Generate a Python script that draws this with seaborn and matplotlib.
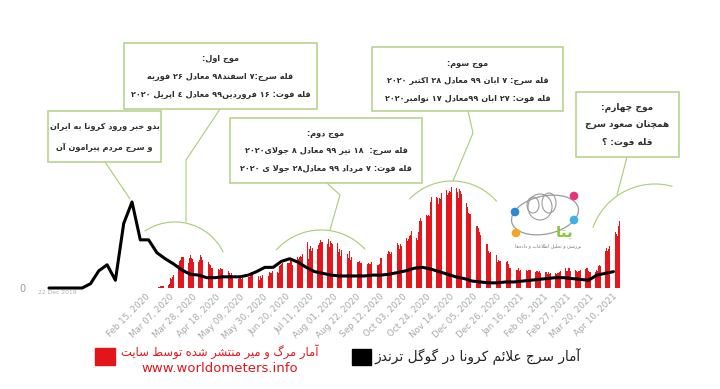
import re
import numpy as np
import pandas as pd
import seaborn as sns
import matplotlib.pyplot as plt
from matplotlib.patches import Rectangle, Ellipse, Circle

sns.set_style('white')
plt.rcParams['font.family'] = ['DejaVu Sans']

# daily deaths in Iran (worldometers), 19 Feb 2020 .. 16 Apr 2021
feb20 = [2, 0, 2, 1, 3, 4, 3, 4, 7, 8, 9]
mar20 = [11, 12, 11, 15, 15, 16, 21, 49, 43, 54, 63, 75, 85, 97, 113, 129, 135, 147, 149, 149, 123,
         129, 127, 122, 143, 157, 144, 139, 123, 117, 141]
apr20 = [138, 124, 134, 158, 151, 136, 133, 121, 117, 122, 125, 117, 111, 98, 94, 92, 89, 73, 87, 91,
         88, 94, 90, 93, 76, 60, 96, 71, 80, 71]
may20 = [63, 74, 47, 74, 68, 78, 68, 45, 55, 48, 45, 48, 50, 71, 48, 35, 51, 51, 62, 66, 69, 56, 58,
         51, 34, 57, 39, 58, 50, 63, 57]
jun20 = [81, 64, 70, 59, 75, 72, 70, 81, 74, 78, 71, 75, 71, 107, 113, 115, 120, 87, 120, 116, 119,
         121, 119, 133, 134, 113, 144, 125, 162, 147]
jul20 = [141, 148, 154, 148, 163, 160, 200, 153, 221, 142, 188, 203, 179, 194, 179, 195, 183, 188,
         209, 217, 229, 221, 221, 195, 216, 215, 212, 235, 196, 226, 216]
aug20 = [212, 208, 202, 212, 215, 174, 189, 156, 181, 189, 189, 171, 173, 164, 146, 178, 134, 149,
         139, 125, 129, 125, 126, 124, 128, 122, 119, 115, 102, 113, 110]
sep20 = [117, 121, 116, 114, 126, 125, 118, 116, 123, 110, 110, 114, 144, 144, 119, 177, 176, 172,
         166, 178, 175, 165, 175, 181, 184, 195, 184, 215, 207, 189]
oct20 = [213, 204, 210, 211, 235, 239, 227, 234, 251, 253, 272, 251, 254, 279, 239, 232, 269, 322,
         337, 322, 316, 322, 335, 351, 346, 353, 346, 415, 439, 434, 386]
nov20 = [434, 440, 432, 406, 433, 430, 459, 444, 453, 403, 470, 447, 458, 469, 461, 486, 482, 476,
         474, 479, 462, 431, 475, 469, 451, 458, 431, 413, 407, 389]
dec20 = [362, 358, 358, 321, 330, 332, 327, 300, 300, 287, 268, 256, 284, 221, 231, 221, 213, 212,
         177, 169, 175, 182, 173, 164, 165, 157, 123, 134, 131, 132, 111]
jan21 = [115, 106, 105, 124, 129, 114, 94, 96, 90, 86, 88, 91, 86, 85, 94, 84, 85, 80, 86, 80, 78,
         88, 82, 85, 86, 87, 81, 70, 81, 78, 82]
feb21 = [83, 79, 84, 71, 80, 63, 86, 75, 79, 66, 76, 68, 71, 73, 79, 78, 72, 67, 70, 72, 75, 84, 65,
         89, 86, 97, 81, 83]
mar21 = [96, 94, 84, 88, 90, 84, 86, 83, 75, 81, 81, 89, 79, 84, 87, 92, 94, 98, 83, 76, 75, 94, 76,
         79, 79, 86, 82, 104, 111, 108, 129]
apr21 = [140, 150, 180, 193, 177, 190, 202, 203, 232, 258, 258, 268, 262, 251, 298, 321]
deaths = feb20 + mar20 + apr20 + may20 + jun20 + jul20 + aug20 + sep20 + oct20 + nov20 + dec20 \
    + jan21 + feb21 + mar21 + apr21
death_dates = pd.date_range('2020-02-19', periods=len(deaths), freq='D')

# google trends (weekly, 0-100), from 22 Dec 2019
trend = [0, 0, 0, 0, 0, 5, 20, 27, 9, 75, 100, 56, 56, 41, 34, 28, 21, 16, 15, 12, 12, 13, 13, 13,
         15, 19, 24, 24, 31, 34, 30, 24, 19, 17, 15, 14, 14, 14, 14, 15, 15, 16, 18, 20, 23, 24, 22,
         19, 16, 13, 11, 8, 7, 6, 6, 7, 7, 8, 9, 10, 11, 12, 12, 11, 10, 9, 15, 17, 19]
trend_dates = pd.date_range('2019-12-22', periods=len(trend), freq='7D')

tick_labels = ['Feb 15, 2020', 'Mar 07, 2020', 'Mar 28, 2020', 'Apr 18, 2020', 'May 09, 2020',
               'May 30, 2020', 'Jun 20, 2020', 'Jul 11, 2020', 'Aug 01, 2020', 'Aug 22, 2020',
               'Sep 12, 2020', 'Oct 03, 2020', 'Oct 24, 2020', 'Nov 14, 2020', 'Dec 05, 2020',
               'Dec 26, 2020', 'Jan 16, 2021', 'Feb 06, 2021', 'Feb 27, 2021', 'Mar 20, 2021',
               'Apr 10, 2021']
tick_dates = pd.date_range('2020-02-15', periods=len(tick_labels), freq='21D')

box1 = ['بدو خبر ورود کرونا به ایران', 'و سرج مردم پیرامون آن']
box2 = ['موج اول:', 'قله سرج:۷ اسفند۹۸ معادل ۲۶ فوریه', 'قله فوت: ۱۶ فروردین۹۹ معادل ٤ اپریل ۲۰۲۰']
box3 = ['موج دوم:', 'قله سرج:  ۱۸ تیر ۹۹ معادل ۸ جولای۲۰۲۰', 'قله فوت: ۷ مرداد ۹۹ معادل۲۸ جولا ی ۲۰۲۰']
box4 = ['موج سوم:', 'قله سرج: ۷ ابان ۹۹ معادل ۲۸ اکتبر ۲۰۲۰', 'قله فوت: ۲۷ ابان ۹۹معادل ۱۷ نوامبر۲۰۲۰']
box5 = ['موج چهارم:', 'همچنان صعود سرج', 'قله فوت: ؟']
legend_red = ['آمار مرگ و میر منتشر شده توسط سایت', 'www.worldometers.info']
legend_black = 'آمار سرج علائم کرونا در گوگل ترندز'
logo_name = 'بتا'
logo_sub = 'بررسی و تحلیل اطلاعات و داده\u200cها'

# --- minimal persian shaping (matplotlib has no bidi / joining) ---
FORMS = {
    'ء': ('\ufe80',), 'آ': ('\ufe81', '\ufe82'), 'ا': ('\ufe8d', '\ufe8e'),
    'ئ': ('\ufe89', '\ufe8a', '\ufe8b', '\ufe8c'), 'ب': ('\ufe8f', '\ufe90', '\ufe91', '\ufe92'),
    'پ': ('\ufb56', '\ufb57', '\ufb58', '\ufb59'), 'ت': ('\ufe95', '\ufe96', '\ufe97', '\ufe98'),
    'ث': ('\ufe99', '\ufe9a', '\ufe9b', '\ufe9c'), 'ج': ('\ufe9d', '\ufe9e', '\ufe9f', '\ufea0'),
    'چ': ('\ufb7a', '\ufb7b', '\ufb7c', '\ufb7d'), 'ح': ('\ufea1', '\ufea2', '\ufea3', '\ufea4'),
    'خ': ('\ufea5', '\ufea6', '\ufea7', '\ufea8'), 'د': ('\ufea9', '\ufeaa'), 'ذ': ('\ufeab', '\ufeac'),
    'ر': ('\ufead', '\ufeae'), 'ز': ('\ufeaf', '\ufeb0'), 'ژ': ('\ufb8a', '\ufb8b'),
    'س': ('\ufeb1', '\ufeb2', '\ufeb3', '\ufeb4'), 'ش': ('\ufeb5', '\ufeb6', '\ufeb7', '\ufeb8'),
    'ص': ('\ufeb9', '\ufeba', '\ufebb', '\ufebc'), 'ض': ('\ufebd', '\ufebe', '\ufebf', '\ufec0'),
    'ط': ('\ufec1', '\ufec2', '\ufec3', '\ufec4'), 'ظ': ('\ufec5', '\ufec6', '\ufec7', '\ufec8'),
    'ع': ('\ufec9', '\ufeca', '\ufecb', '\ufecc'), 'غ': ('\ufecd', '\ufece', '\ufecf', '\ufed0'),
    'ف': ('\ufed1', '\ufed2', '\ufed3', '\ufed4'), 'ق': ('\ufed5', '\ufed6', '\ufed7', '\ufed8'),
    'ک': ('\ufb8e', '\ufb8f', '\ufb90', '\ufb91'), 'گ': ('\ufb92', '\ufb93', '\ufb94', '\ufb95'),
    'ل': ('\ufedd', '\ufede', '\ufedf', '\ufee0'), 'م': ('\ufee1', '\ufee2', '\ufee3', '\ufee4'),
    'ن': ('\ufee5', '\ufee6', '\ufee7', '\ufee8'), 'ه': ('\ufee9', '\ufeea', '\ufeeb', '\ufeec'),
    'و': ('\ufeed', '\ufeee'), 'ی': ('\ufbfc', '\ufbfd', '\ufbfe', '\ufbff'),
}
LAM_ALEF = {'ا': ('\ufefb', '\ufefc'), 'آ': ('\ufef5', '\ufef6')}


def fa(txt):
    out = []
    i, n = 0, len(txt)
    while i < n:
        c = txt[i]
        if c not in FORMS:
            if c != '\u200c':
                out.append(c)
            i += 1
            continue
        prev = txt[i - 1] if i > 0 else ''
        jp = prev in FORMS and len(FORMS[prev]) == 4
        if c == 'ل' and i + 1 < n and txt[i + 1] in LAM_ALEF:
            out.append(LAM_ALEF[txt[i + 1]][1 if jp else 0])
            i += 2
            continue
        nxt = txt[i + 1] if i + 1 < n else ''
        f = FORMS[c]
        jn = len(f) == 4 and nxt in FORMS
        if jp and jn:
            g = f[3]
        elif jp:
            g = f[1] if len(f) > 1 else f[0]
        elif jn:
            g = f[2]
        else:
            g = f[0]
        out.append(g)
        i += 1
    s = ''.join(out)[::-1]
    return re.sub(r'[0-9\u06f0-\u06f9\u0660-\u0669]+', lambda m: m.group()[::-1], s)


W, H = 720, 389
fig = plt.figure(figsize=(7.2, 3.89), dpi=100)
fig.patch.set_facecolor('white')

# axes covering pixels x 38..700, y 170..288
rect = [38 / W, (H - 288) / H, 662 / W, 118 / H]
ax = fig.add_axes(rect)
bar_x = np.array((death_dates - tick_dates[0]).days)
sns.barplot(x=bar_x, y=deaths, native_scale=True, color='#e5161c', saturation=1,
            width=0.55, errorbar=None, linewidth=0, ax=ax)
ax.set_xlim(-97.1, 498.2)
ax.set_ylim(0, 568)
tick_x = np.array((tick_dates - tick_dates[0]).days)
ax.set_xticks(tick_x, tick_labels, rotation=45, ha='right', rotation_mode='anchor')
ax.set_yticks([0], ['0'])
ax.tick_params(axis='x', length=0, pad=3, labelsize=6.3, labelcolor='#a8a8a8')
ax.tick_params(axis='y', length=0, pad=9, labelsize=7, labelcolor='#9a9a9a')
ax.set_xlabel('')
ax.set_ylabel('')
sns.despine(ax=ax, left=True, bottom=True)
ax.hlines(0, -80, bar_x[0], color='#e4e4e4', lw=0.8, zorder=0)
ax.patch.set_alpha(0)

# google trends line on its own scale (its own time axis)
ax2 = fig.add_axes(rect)
ax2.patch.set_alpha(0)
line_x = np.array((trend_dates - trend_dates[0]).days)
sns.lineplot(x=line_x, y=trend, ax=ax2, color='black', lw=2.2, clip_on=False)
ax2.set_xlim(-9.28, 549.0)
ax2.set_ylim(0, 137.2)
ax2.axis('off')

# overlay in pixel coordinates for the notes, logo and legend
ov = fig.add_axes([0, 0, 1, 1])
ov.set_xlim(0, W)
ov.set_ylim(H, 0)
ov.axis('off')
ov.patch.set_alpha(0)

box_ec = '#b2d187'
line_c = '#a9cb77'
txt_c = '#2e2e2e'


def note(x0, y0, x1, y1, lines, ys, size=5.9):
    ov.add_patch(Rectangle((x0, y0), x1 - x0, y1 - y0, fc='white', ec=box_ec, lw=1.1, zorder=3))
    for t, y in zip(lines, ys):
        ov.text((x0 + x1) / 2, y, fa(t), ha='center', va='center', fontsize=size,
                color=txt_c, fontweight='bold', zorder=4)


def arc(cx, cy, r, a0, a1):
    t = np.radians(np.linspace(a0, a1, 60))
    ov.plot(cx + r * np.cos(t), cy - r * np.sin(t), color=line_c, lw=0.8)


note(48, 111, 161, 162, box1, [126, 147])
note(124, 43, 317, 109, box2, [58, 76, 94])
note(230, 118, 422, 183, box3, [133, 150, 168])
note(372, 47, 563, 111, box4, [63, 80, 98])
note(576, 92, 679, 157, box5, [107, 124, 142], size=6.5)

ov.plot([105, 130], [162, 199], color=line_c, lw=0.8)
ov.plot([220, 186, 186], [109, 160, 222], color=line_c, lw=0.8)
ov.plot([327, 340, 330], [183, 195, 230], color=line_c, lw=0.8)
ov.plot([468, 473, 453], [111, 133, 181], color=line_c, lw=0.8)
ov.plot([627, 617], [157, 195], color=line_c, lw=0.8)
arc(174.8, 276, 54, 26.5, 123.5)
arc(321, 290, 60, 43, 138)
arc(452, 240, 59, 41, 136)
arc(655, 250, 66, 75, 160)

# logo
ov.add_patch(Ellipse((545, 215), 68, 38, angle=-12, fill=False, ec='#9b9b9b', lw=0.9))
for (cx, cy, w, h) in [(540, 207, 24, 26), (549, 203, 14, 20), (533, 205, 12, 16)]:
    ov.add_patch(Ellipse((cx, cy), w, h, fill=False, ec='#9b9b9b', lw=0.8))
for (cx, cy, c) in [(515, 212, '#2b8ad8'), (516, 233, '#f5a623'), (574, 196, '#e6337a'),
                    (574, 220, '#3ab4e6')]:
    ov.add_patch(Circle((cx, cy), 3.6, color=c, zorder=3))
ov.text(565, 232, fa(logo_name), ha='center', va='center', fontsize=11, fontweight='bold',
        color='#8cc63f')
ov.text(548, 246, fa(logo_sub), ha='center', va='center', fontsize=3.4, color='#777777')

# legend
ov.add_patch(Rectangle((95, 348), 20, 17, color='#e3151a'))
ov.text(220, 352, fa(legend_red[0]), ha='center', va='center', fontsize=8.3, color='#e3151a')
ov.text(220, 368, legend_red[1], ha='center', va='center', fontsize=9.5, color='#e3151a')
ov.add_patch(Rectangle((352, 349), 19, 16, color='black'))
ov.text(374, 357, fa(legend_black), ha='left', va='center', fontsize=9.8, color='#222222')

ov.text(57, 292, '22 Dec 2019', ha='center', va='center', fontsize=4.3, color='#b0b0b0')

fig.savefig('out.png', dpi=100, facecolor='white')
